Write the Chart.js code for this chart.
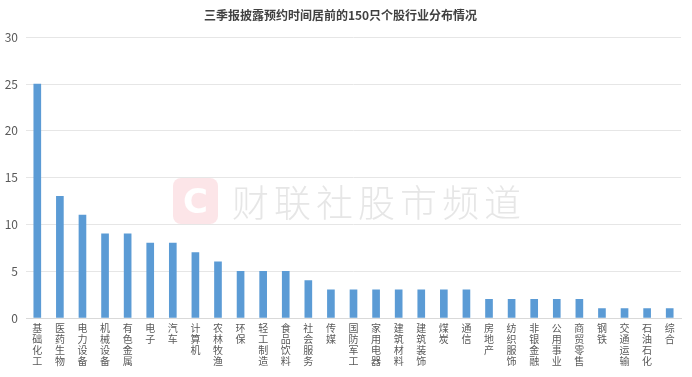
<!DOCTYPE html>
<html>
<head>
<meta charset="utf-8">
<script src="https://cdn.jsdelivr.net/npm/chart.js@4"></script>
<style>
  html, body { margin: 0; padding: 0; background: #fff; }
  #wrap { position: relative; width: 692px; height: 377px; }
  #mark {
    position: absolute; left: 173px; top: 178px; height: 46px;
    font-family: "Noto Sans CJK SC", sans-serif; font-size: 37px; font-weight: 300;
    color: rgba(205, 205, 205, 0.5); white-space: nowrap; line-height: 46px;
    letter-spacing: 5px; pointer-events: none;
  }
  #mark span {
    display: inline-block; width: 45px; height: 46px; border-radius: 8px;
    background: rgba(245, 170, 180, 0.3); color: #fff; letter-spacing: 0;
    text-align: center; font-weight: bold; font-family: "DejaVu Sans", sans-serif;
    font-size: 34px; margin-right: 14px; vertical-align: top;
  }
</style>
</head>
<body>
<div id="wrap">
  <canvas id="chart" width="692" height="377"></canvas>
  <div id="mark"><span>C</span>财联社股市频道</div>
</div>
<script>
// 三季报披露预约时间居前的150只个股 - 行业分布
const industries = ['基础化工', '医药生物', '电力设备', '机械设备', '有色金属', '电子', '汽车', '计算机',
    '农林牧渔', '环保', '轻工制造', '食品饮料', '社会服务', '传媒', '国防军工', '家用电器', '建筑材料',
    '建筑装饰', '煤炭', '通信', '房地产', '纺织服饰', '非银金融', '公用事业', '商贸零售', '钢铁',
    '交通运输', '石油石化', '综合'];
const counts = [25, 13, 11, 9, 9, 8, 8, 7, 6, 5, 5, 5, 4, 3, 3, 3, 3, 3, 3, 3, 2, 2, 2, 2, 2, 1, 1, 1, 1];
const yTicks = [0, 5, 10, 15, 20, 25, 30];

const fontFamily = '"Noto Sans CJK SC", "Microsoft YaHei", sans-serif';

// vertical labels: one character per line
const labels = industries.map(name => name.split(''));

new Chart(document.getElementById('chart'), {
    type: 'bar',
    data: {
        labels: labels,
        datasets: [{
            label: '个股数量',
            data: counts,
            backgroundColor: '#5b9bd5',
            barThickness: 7
        }]
    },
    options: {
        responsive: false,
        animation: false,
        layout: { padding: { left: 0, right: 11, top: 2, bottom: 5 } },
        plugins: {
            legend: { display: false },
            tooltip: { enabled: false },
            title: {
                display: true,
                text: '三季报披露预约时间居前的150只个股行业分布情况',
                color: '#404040',
                font: { family: fontFamily, size: 12, weight: 'bold' },
                padding: { top: 6, bottom: 15 }
            }
        },
        scales: {
            x: {
                grid: { display: false, drawTicks: false },
                border: { color: '#d9d9d9' },
                ticks: {
                    color: '#595959',
                    font: { family: fontFamily, size: 10, lineHeight: 1.1 },
                    maxRotation: 0,
                    autoSkip: false,
                    padding: 5
                }
            },
            y: {
                min: 0,
                max: 30,
                afterBuildTicks: axis => { axis.ticks = yTicks.map(v => ({ value: v })); },
                afterFit: axis => { axis.width = 26; },
                grid: { color: '#e6e6e6', drawTicks: false },
                border: { display: false },
                ticks: {
                    color: '#595959',
                    font: { family: fontFamily, size: 12 },
                    padding: 8
                }
            }
        }
    }
});
</script>
</body>
</html>
